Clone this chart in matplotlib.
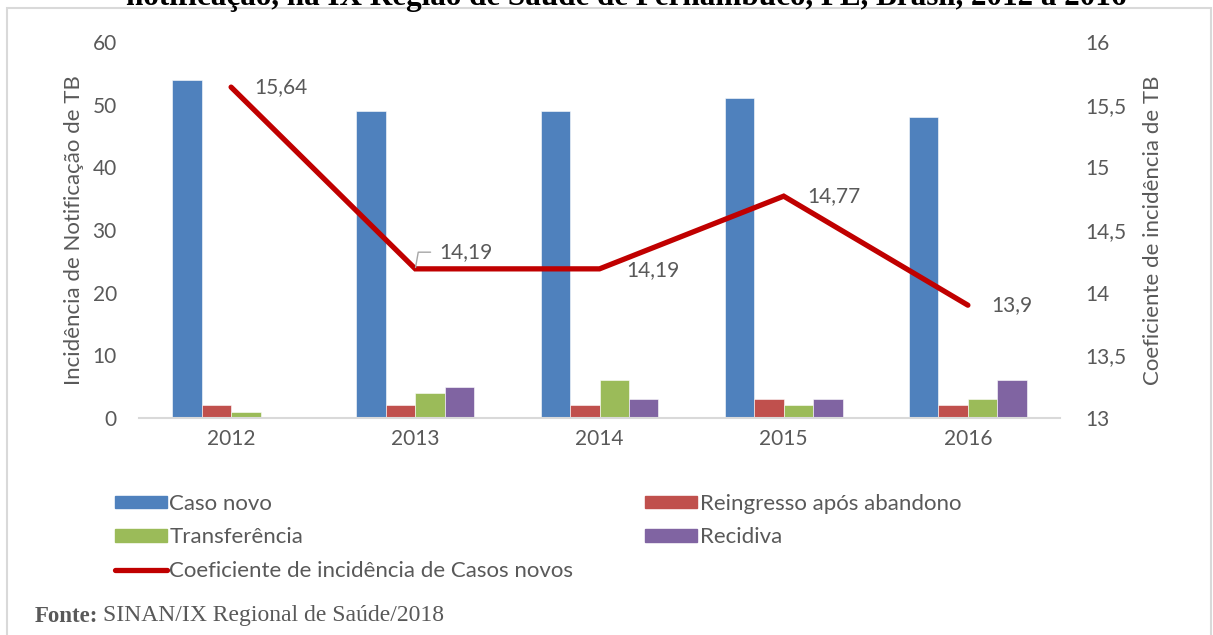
import matplotlib
matplotlib.use("Agg")
import matplotlib.pyplot as plt
import matplotlib.patches as mpatches
from matplotlib.lines import Line2D
import numpy as np

plt.rcParams['font.family'] = ['Lato', 'DejaVu Sans']

anos = ["2012", "2013", "2014", "2015", "2016"]
caso_novo = [54, 49, 49, 51, 48]
reingresso = [2, 2, 2, 3, 2]
transferencia = [1, 4, 6, 2, 3]
recidiva = [0, 5, 3, 3, 6]
coeficiente = [15.64, 14.19, 14.19, 14.77, 13.9]
coef_labels = ["15,64", "14,19", "14,19", "14,77", "13,9"]

cinza = "#595959"
cores = ["#4f81bd", "#c0504d", "#9bbb59", "#8064a2"]
nomes = ["Caso novo", "Reingresso após abandono", "Transferência", "Recidiva"]

W, H = 1213, 635
fig = plt.figure(figsize=(W / 100, H / 100), dpi=100)

# moldura cinza
fig.patches.append(mpatches.Rectangle((7 / W, -0.1), 1204 / W, 1.1 - 8 / H,
                                      transform=fig.transFigure, fill=False,
                                      edgecolor="#d9d9d9", lw=1.5))

# titulo cortado no topo (como no original)
fig.text(0.516, 1 - 5 / H, "notificação, na IX Região de Saúde de Pernambuco, PE, Brasil, 2012 a 2016",
         ha="center", va="baseline", fontsize=22.4, fontweight="bold",
         family="Liberation Serif", color="black")

ax = fig.add_axes([139 / W, 1 - 418 / H, 921 / W, 376 / H])
x = np.arange(len(anos))
w = 0.16
series = [caso_novo, reingresso, transferencia, recidiva]
for i, (s, c) in enumerate(zip(series, cores)):
    ax.bar(x + (i - 1.5) * w, s, w, color=c, edgecolor="white", linewidth=0.4, zorder=2)

ax.set_xlim(-0.5, len(anos) - 0.5)
ax.set_ylim(0, 60)
ax.set_yticks(range(0, 61, 10))
ax.set_xticks(x)
ax.set_xticklabels(anos)
for sp in ["top", "right", "left"]:
    ax.spines[sp].set_visible(False)
ax.spines["bottom"].set_color("#d9d9d9")
ax.spines["bottom"].set_linewidth(1.5)
ax.tick_params(axis="both", length=0, colors=cinza, labelsize=15)
ax.tick_params(axis="x", pad=8)
ax.tick_params(axis="y", pad=16)
ax.set_ylabel("Incidência de Notificação de TB", color=cinza, fontsize=16, labelpad=6)

ax2 = ax.twinx()
ax2.set_ylim(13, 16)
ax2.set_yticks(np.arange(13, 16.01, 0.5))
ax2.set_yticklabels([f"{v:g}".replace(".", ",") for v in np.arange(13, 16.01, 0.5)])
for sp in ax2.spines.values():
    sp.set_visible(False)
ax2.tick_params(axis="y", length=0, colors=cinza, labelsize=15, pad=18)
ax2.set_ylabel("Coeficiente de incidência de TB", color=cinza, fontsize=16,
               rotation=90, labelpad=12)
ax2.plot(x, coeficiente, color="#c00000", lw=3.8, solid_capstyle="round",
         solid_joinstyle="miter", zorder=3)

offsets = [(17, 0), (17, 12), (19, -1), (17, 0), (17, 0)]
for i, (v, t) in enumerate(zip(coeficiente, coef_labels)):
    dx, dy = offsets[i]
    if i == 1:
        ax2.annotate(t, (x[i], v), xytext=(dx, dy), textcoords="offset points",
                     ha="left", va="center", fontsize=15, color=cinza,
                     arrowprops=dict(arrowstyle="-", color="#a6a6a6", lw=1,
                                     shrinkA=4, shrinkB=1,
                                     connectionstyle="angle,angleA=0,angleB=80,rad=0",
                                     relpos=(0, 0.5)))
    else:
        ax2.annotate(t, (x[i], v), xytext=(dx, dy), textcoords="offset points",
                     ha="left", va="center", fontsize=15, color=cinza)

handles = [mpatches.Patch(color=cores[0]), mpatches.Patch(color=cores[2]),
           Line2D([], [], color="#c00000", lw=3.8, solid_capstyle="round"),
           mpatches.Patch(color=cores[1]), mpatches.Patch(color=cores[3])]
labels = [nomes[0], nomes[2], "Coeficiente de incidência de Casos novos", nomes[1], nomes[3]]
fig.legend(handles, labels, ncol=2, loc="upper left",
           bbox_to_anchor=(95 / W, 1 - 474 / H), frameon=False,
           fontsize=16, handlelength=2.34, handleheight=0.5, handletextpad=0.1,
           columnspacing=3.25, labelspacing=0.6, labelcolor=cinza)

fig.text(35 / W, 1 - 616 / H, "Fonte:", fontsize=16.5, fontweight="bold",
         family="Liberation Serif", color=cinza, va="center")
fig.text(103 / W, 1 - 616 / H, "SINAN/IX Regional de Saúde/2018", fontsize=17,
         family="Liberation Serif", color=cinza, va="center")

fig.savefig("out.png", dpi=100)
